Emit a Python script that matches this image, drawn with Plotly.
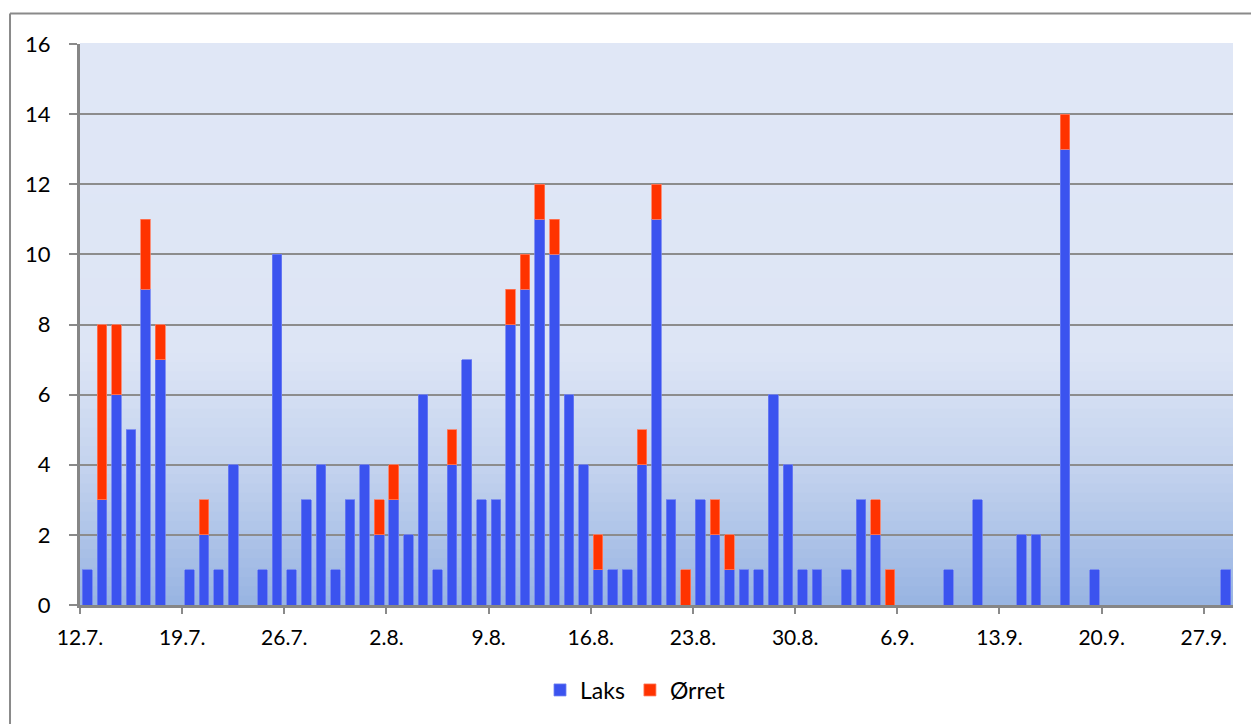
import plotly.graph_objects as go
import pandas as pd

# ---- data (one value per day, 12.7. to 28.9.) ----
start_date = "2010-07-12"
n_days = 79
dates = pd.date_range(start_date, periods=n_days, freq="D").strftime("%Y-%m-%d").tolist()

laks = [1, 3, 6, 5, 9, 7, 0, 1, 2, 1,
        4, 0, 1, 10, 1, 3, 4, 1, 3, 4,
        2, 3, 2, 6, 1, 4, 7, 3, 3, 8,
        9, 11, 10, 6, 4, 1, 1, 1, 4, 11,
        3, 0, 3, 2, 1, 1, 1, 6, 4, 1,
        1, 0, 1, 3, 2, 0, 0, 0, 0, 1,
        0, 3, 0, 0, 2, 2, 0, 13, 0, 1,
        0, 0, 0, 0, 0, 0, 0, 0, 1]
orret = [0, 5, 2, 0, 2, 1, 0, 0, 1, 0,
         0, 0, 0, 0, 0, 0, 0, 0, 0, 0,
         1, 1, 0, 0, 0, 1, 0, 0, 0, 1,
         1, 1, 1, 0, 0, 1, 0, 0, 1, 1,
         0, 1, 0, 1, 1, 0, 0, 0, 0, 0,
         0, 0, 0, 0, 1, 1, 0, 0, 0, 0,
         0, 0, 0, 0, 0, 0, 0, 1, 0, 0,
         0, 0, 0, 0, 0, 0, 0, 0, 0]
series_names = ["Laks", "Ørret"]
y_ticks = [0, 2, 4, 6, 8, 10, 12, 14, 16]

DAY_MS = 86400000
FONT = "Lato, Carlito, Calibri, sans-serif"
BLUE = "#3B53EF"
RED = "#FF3300"
GRID = "#8c8c8c"

fig = go.Figure()
for name, vals, col, edge in [(series_names[0], laks, BLUE, "#6E80F2"),
                              (series_names[1], orret, RED, "#FF7A5C")]:
    fig.add_trace(go.Bar(
        x=dates, y=[v if v else None for v in vals], name=name,
        xperiod=DAY_MS, xperiodalignment="middle",
        width=0.66 * DAY_MS,
        marker=dict(color=col, line=dict(color=edge, width=0.8)),
    ))

# gradient plot background (bands)
stops = [(0.0, (152, 180, 226)), (0.25, (196, 211, 238)),
         (0.45, (221, 229, 245)), (1.0, (224, 231, 246))]

def col_at(f):
    for (f0, c0), (f1, c1) in zip(stops[:-1], stops[1:]):
        if f0 <= f <= f1:
            t = (f - f0) / (f1 - f0)
            return "rgb(%d,%d,%d)" % tuple(round(a + (b - a) * t) for a, b in zip(c0, c1))
    return "rgb(%d,%d,%d)" % stops[-1][1]

nb = 60
shapes = []
for k in range(nb):
    f0, f1 = k / nb, (k + 1) / nb
    shapes.append(dict(type="rect", xref="x domain", yref="y domain",
                       x0=0, x1=1, y0=f0, y1=f1 + 0.002, layer="below",
                       line=dict(width=0), fillcolor=col_at((f0 + f1) / 2)))

# outer chart border (left and top visible)
shapes.append(dict(type="line", xref="paper", yref="paper",
                   x0=-0.0607, x1=-0.0607, y0=-0.25, y1=1.0545,
                   line=dict(color="#8a8a8a", width=2)))
shapes.append(dict(type="line", xref="paper", yref="paper",
                   x0=-0.0607, x1=1.05, y0=1.0545, y1=1.0545,
                   line=dict(color="#8a8a8a", width=2)))

fig.update_layout(
    width=1251, height=724,
    margin=dict(l=80, r=18, t=44, b=119),
    barmode="stack",
    paper_bgcolor="white",
    plot_bgcolor="#E0E7F6",
    shapes=shapes,
    font=dict(family=FONT, color="#000000"),
    legend=dict(orientation="h", xref="container", yref="container",
                x=0.508, xanchor="center", y=0.047, yanchor="middle",
                traceorder="normal",
                font=dict(size=23, family=FONT), itemwidth=30,
                bgcolor="rgba(0,0,0,0)"),
    showlegend=True,
)

fig.update_xaxes(
    type="date",
    range=[dates[0], "2010-09-29"],
    tickmode="linear", tick0=dates[0], dtick=7 * DAY_MS,
    tickformat="%-d.%-m.",
    ticks="outside", ticklen=6, tickwidth=2, tickcolor="#8a8a8a",
    showline=True, linecolor="#868686", linewidth=3,
    showgrid=False, zeroline=False,
    tickfont=dict(size=21, family=FONT, color="#000"),
    ticklabelstandoff=6,
)
fig.update_yaxes(
    range=[0, 16],
    tickmode="array", tickvals=y_ticks, ticktext=[str(v) for v in y_ticks],
    ticks="outside", ticklen=8, tickwidth=2, tickcolor="#8a8a8a",
    showline=True, linecolor="#868686", linewidth=3,
    showgrid=True, gridcolor=GRID, gridwidth=2,
    zeroline=False,
    tickfont=dict(size=22, family=FONT, color="#000"),
    ticklabelstandoff=14,
)

fig.write_html("out.html")
